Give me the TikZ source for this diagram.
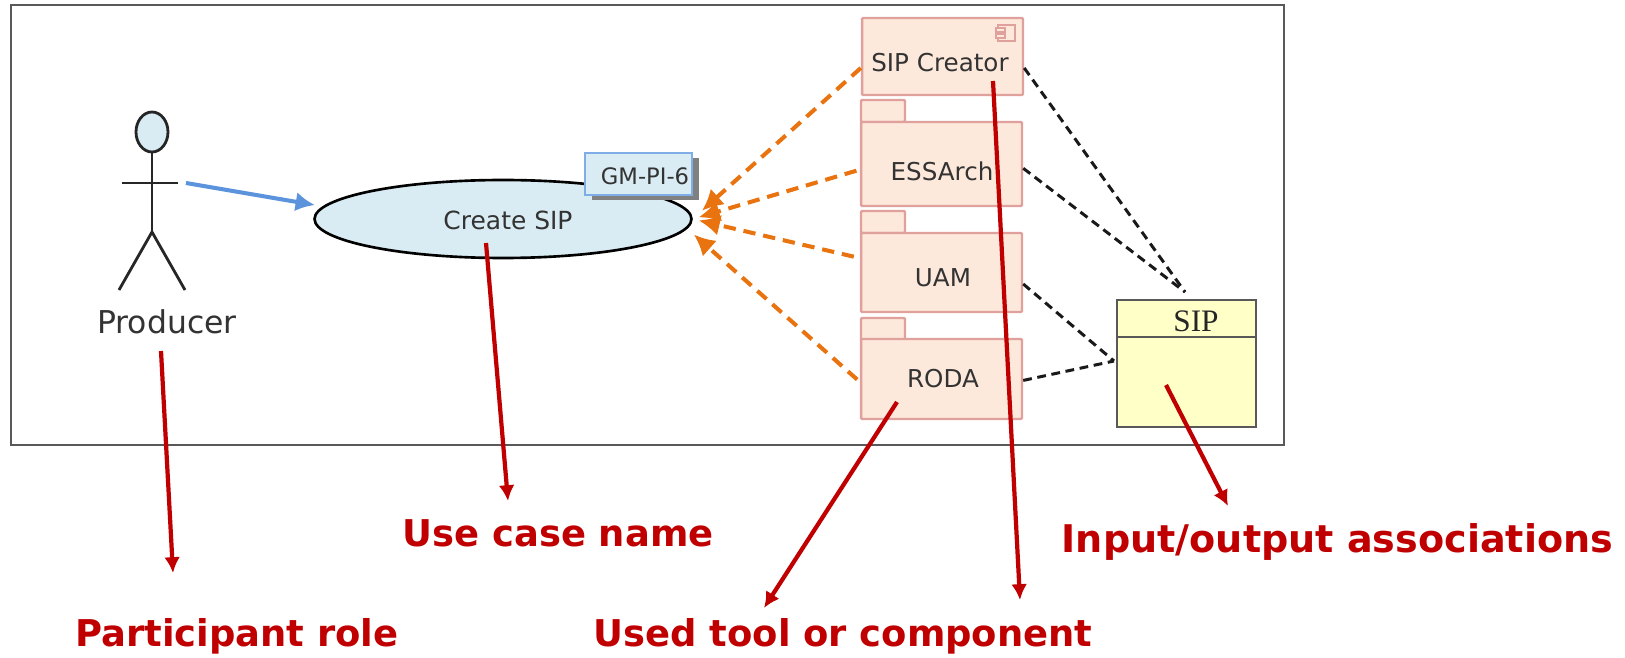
\documentclass[tikz,border=0pt]{standalone}
\usepackage{xcolor}
\usepackage{fontspec}
\setmainfont{DejaVu Sans}
\newfontfamily\serifsip{Liberation Serif}
\usetikzlibrary{arrows.meta,shapes.geometric,shadows}
\definecolor{boxfill}{HTML}{FDE9DB}
\definecolor{boxedge}{HTML}{E0A09C}
\definecolor{ucfill}{HTML}{DAECF3}
\definecolor{noteedge}{HTML}{7FAEE6}
\definecolor{flowblue}{HTML}{5B93DC}
\definecolor{useorange}{HTML}{E8730F}
\definecolor{notered}{HTML}{C00000}
\definecolor{sipfill}{HTML}{FFFFC8}
\definecolor{inktext}{HTML}{333333}
\tikzset{
    box/.style={draw=boxedge, fill=boxfill, line width=1.4pt, rounded corners=0.6pt, inner sep=0pt},
    tabbox/.style={box, minimum width=0.88cm, minimum height=0.44cm},
    bodybox/.style={box, minimum width=3.22cm},
    boxname/.style={text=inktext, inner sep=0pt, font=\fontsize{14}{16}\selectfont},
    uses/.style={draw=useorange, line width=2.3pt, dash pattern=on 7pt off 4.5pt, -{Latex[length=12pt,width=12pt]}},
    ioline/.style={draw=black!90, line width=1.7pt, dash pattern=on 5pt off 3.2pt},
    note/.style={draw=notered, line width=2.4pt, -{Latex[length=9pt,width=9pt]}},
    notetext/.style={text=notered, inner sep=0pt, font=\fontsize{21}{24}\selectfont\bfseries},
    stick/.style={draw=black!85, line width=1.6pt}
}
\begin{document}
\begin{tikzpicture}[x=0.02cm,y=-0.02cm]
    \useasboundingbox (0,0) rectangle (1625,658);
    % frame
    \node[draw=black!65, line width=1.2pt, fill=white, minimum width=25.48cm, minimum height=8.81cm, inner sep=0pt] (frame) at (647.5,225) {};
    % actor
    \node[draw=black!85, fill=ucfill, line width=1.6pt, ellipse, minimum width=0.64cm, minimum height=0.8cm, inner sep=0pt] (head) at (152,132) {};
    \coordinate (hip) at (152,232);
    \coordinate (armL) at (122,183);
    \coordinate (armR) at (178,183);
    \coordinate (footL) at (119,290);
    \coordinate (footR) at (185,290);
    \draw[stick] (head) -- (hip);
    \draw[stick] (armL) -- (armR);
    \draw[stick] (footL) -- (hip) -- (footR);
    \node[text=inktext, font=\fontsize{17.9}{20}\selectfont] (producer) at (167,322) {Producer};
    % use case
    \node[draw=black, fill=ucfill, line width=1.5pt, ellipse, minimum width=7.54cm, minimum height=1.56cm, inner sep=0pt] (createsip) at (503,219) {};
    \node[boxname, font=\fontsize{14.2}{16}\selectfont] (createname) at (508,220) {Create SIP};
    \node[draw=noteedge, fill=ucfill, line width=1.3pt, minimum width=2.14cm, minimum height=0.84cm, inner sep=0pt, drop shadow={shadow xshift=4pt, shadow yshift=-3pt, fill=black!50, opacity=1}] (gmpi) at (638.5,174) {};
    \node[boxname, font=\fontsize{12.9}{15}\selectfont] (gmname) at (645,176) {GM-PI-6};
    \coordinate (armtip) at (186,183);
    \draw[draw=flowblue, line width=2.3pt, -{Latex[length=11pt,width=11pt]}, shorten >=4.5pt] (armtip) -- (createsip.176.6);
    % tools
    \node[bodybox, minimum height=1.54cm] (creator) at (942.5,56.5) {};
    \node[boxname] (creatorname) at (940,63) {SIP Creator};
    \draw[draw=boxedge, line width=1.1pt] (998,25) rectangle (1015,41);
    \draw[draw=boxedge, fill=boxfill, line width=1.1pt] (996,28) rectangle (1005,32);
    \draw[draw=boxedge, fill=boxfill, line width=1.1pt] (996,34) rectangle (1005,38);
    \node[tabbox] (essarchtab) at (883,111) {};
    \node[bodybox, minimum height=1.68cm] (essarch) at (941.5,164) {};
    \node[boxname] (essarchname) at (942,171) {ESSArch};
    \node[tabbox] (uamtab) at (883,222) {};
    \node[bodybox, minimum height=1.58cm] (uam) at (941.5,272.5) {};
    \node[boxname] (uamname) at (943,278) {UAM};
    \node[tabbox] (rodatab) at (883,329) {};
    \node[bodybox, minimum height=1.60cm] (roda) at (941.5,379) {};
    \node[boxname] (rodaname) at (943,379) {RODA};
    % artefact
    \node[draw=black!65, fill=sipfill, line width=1.4pt, minimum width=2.78cm, minimum height=2.54cm, inner sep=0pt] (sip) at (1186.5,363.5) {};
    \node[font=\fontsize{17.8}{20}\serifsip\selectfont, text=black!85] (siptitle) at (1196,321) {SIP};
    \coordinate (sipL) at (1117,337);
    \coordinate (sipR) at (1256,337);
    \draw[draw=black!65, line width=1.4pt] (sipL) -- (sipR);
    \coordinate (siptop) at (1185,292);
    \coordinate (sipside) at (1114,361);
    % uses
    \draw[uses, shorten >=7pt] (creator.188) -- (createsip.east);
    \draw[uses, shorten >=3.5pt, shorten <=2pt] (essarch.184) -- (createsip.east);
    \draw[uses, shorten >=3.5pt, shorten <=3.5pt] (uam.170) -- (createsip.east);
    \draw[uses, shorten >=5pt, shorten <=2pt] (roda.182) -- (createsip.-3);
    % associations
    \draw[ioline] (creator.-8) -- (siptop);
    \draw[ioline] (essarch.-3) -- (siptop);
    \draw[ioline] (uam.-8) -- (sipside);
    \draw[ioline] (roda.-1) -- (sipside);
    % labels
    \node[notetext] (rolelabel) at (237,636) {Participant role};
    \node[notetext] (namelabel) at (558,533) {Use case name};
    \node[notetext] (toollabel) at (843,636) {Used tool or component};
    \node[notetext, font=\fontsize{21.7}{24}\selectfont\bfseries] (iolabel) at (1337.5,542) {Input/output associations};
    \coordinate (roletip) at (173,573);
    \coordinate (nametip) at (508,501);
    \coordinate (rodatip) at (764,608);
    \coordinate (creatortip) at (1020,600);
    \coordinate (iotip) at (1228,506);
    \coordinate (rolefrom) at (161,351);
    \coordinate (namefrom) at (486,243);
    \coordinate (rodafrom) at (897,402);
    \coordinate (creatorfrom) at (993,81);
    \coordinate (iofrom) at (1166,385);
    \draw[note] (rolefrom) -- (roletip);
    \draw[note] (namefrom) -- (nametip);
    \draw[note] (rodafrom) -- (rodatip);
    \draw[note] (creatorfrom) -- (creatortip);
    \draw[note] (iofrom) -- (iotip);
\end{tikzpicture}
\end{document}
